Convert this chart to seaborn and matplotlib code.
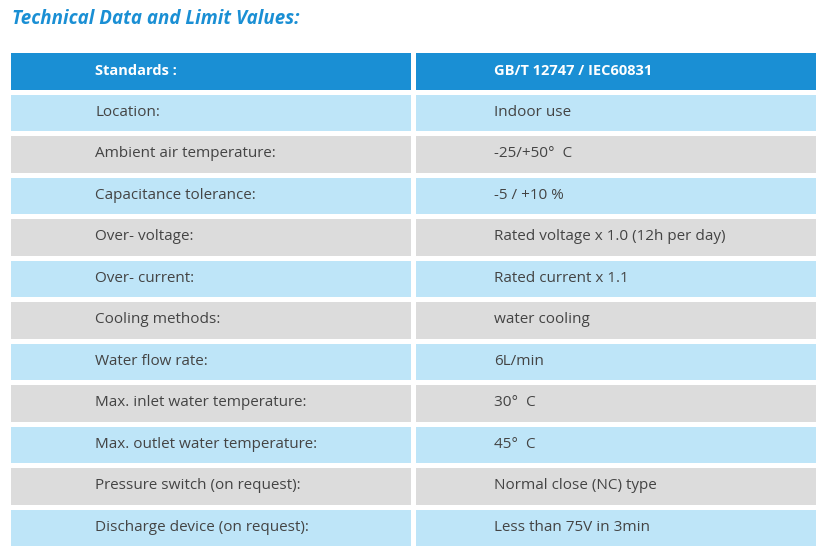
import matplotlib
matplotlib.use("Agg")
import matplotlib.pyplot as plt
from matplotlib.colors import ListedColormap
import seaborn as sns
import numpy as np

title = "Technical Data and Limit Values:"
header = ["Standards :", "GB/T 12747 / IEC60831"]
parameters = [
    "Location:", "Ambient air temperature:", "Capacitance tolerance:",
    "Over- voltage:", "Over- current:", "Cooling methods:", "Water flow rate:",
    "Max. inlet water temperature:", "Max. outlet water temperature:",
    "Pressure switch (on request):", "Discharge device (on request):",
]
values = [
    "Indoor use", "-25/+50\u00b0  C", "-5 / +10 %",
    "Rated voltage x 1.0 (12h per day)", "Rated current x 1.1", "water cooling",
    "6L/min", "30\u00b0  C", "45\u00b0  C", "Normal close (NC) type",
    "Less than 75V in 3min",
]

# 0 = header, 1 = light blue row, 2 = grey row
kinds = np.array([[0, 0]] + [[1 + i % 2] * 2 for i in range(len(parameters))])
cmap = ListedColormap(["#1a8fd4", "#bee5f8", "#dcdcdc"])

fig = plt.figure(figsize=(8.23, 5.57), dpi=100)
ax = fig.add_axes([8 / 823, 1 - 548 / 557, 810 / 823, 498 / 557])
sns.heatmap(kinds, cmap=cmap, vmin=-0.5, vmax=2.5, cbar=False,
            linewidths=2.2, linecolor="white", ax=ax)
ax.set_xticks([])
ax.set_yticks([])

ax.text(0.215, 0.5, header[0], ha="left", va="center", color="white",
        fontsize=10.5, fontweight="bold", family="Open Sans")
ax.text(1.2, 0.5, header[1], ha="left", va="center", color="white",
        fontsize=10.5, fontweight="bold", family="Open Sans")
for i, (p, v) in enumerate(zip(parameters, values)):
    ax.text(0.215, i + 1.5, p, ha="left", va="center", color="#444444",
            fontsize=11, family="Open Sans")
    ax.text(1.2, i + 1.5, v, ha="left", va="center", color="#444444",
            fontsize=11, family="Open Sans")

fig.text(12 / 823, 1 - 19 / 557, title, ha="left", va="center", color="#1a8fd4",
         fontsize=13.5, fontweight="bold", fontstyle="italic", family="Open Sans")

fig.savefig("out.png", dpi=100)
